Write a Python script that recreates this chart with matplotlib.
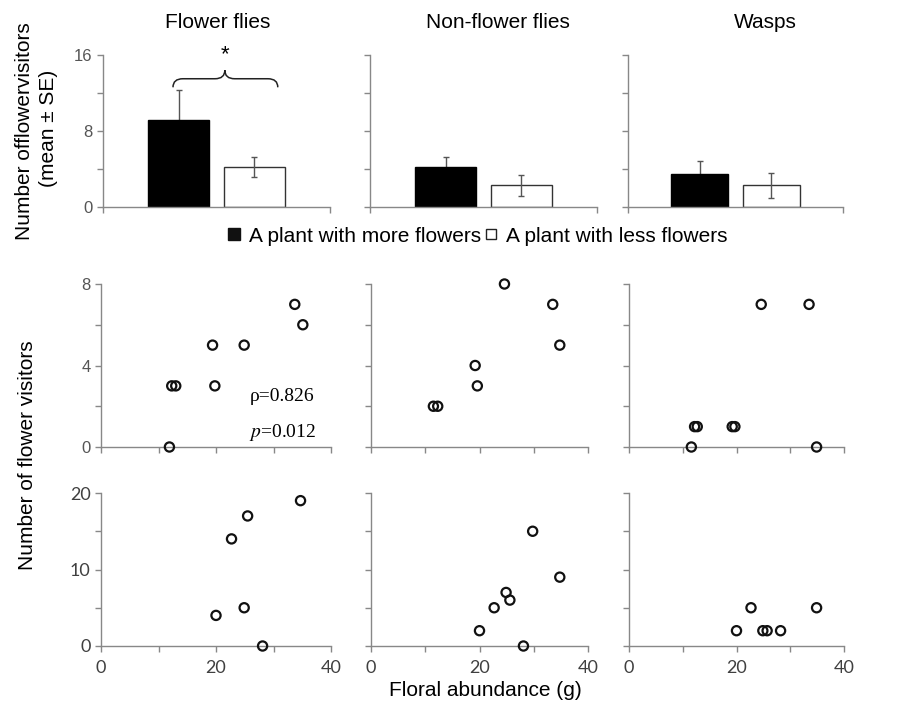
import matplotlib
matplotlib.use('Agg')
import matplotlib.pyplot as plt
from matplotlib.path import Path
from matplotlib.patches import PathPatch
from matplotlib.lines import Line2D

plt.rcParams['font.family'] = ['Liberation Sans', 'DejaVu Sans']
plt.rcParams['mathtext.fontset'] = 'stix'

# bar row: mean +- SE of visitors per plant
groups = ['Flower flies', 'Non-flower flies', 'Wasps']
more_mean = [9.2, 4.2, 3.5]
more_se = [3.1, 1.05, 1.35]
less_mean = [4.2, 2.3, 2.3]
less_se = [1.05, 1.1, 1.3]
legend_labels = ['A plant with more flowers', 'A plant with less flowers']

# middle row: floral abundance vs visitors
mid_x = [[11.9, 12.3, 13.0, 19.4, 19.8, 24.9, 33.7, 35.1],
         [11.5, 12.3, 19.2, 19.6, 24.6, 33.5, 34.8],
         [11.6, 12.2, 12.7, 19.2, 19.7, 24.6, 33.5, 34.9]]
mid_y = [[0, 3, 3, 5, 3, 5, 7, 6],
         [2, 2, 4, 3, 8, 7, 5],
         [0, 1, 1, 1, 1, 7, 7, 0]]

# bottom row
low_x = [[20.0, 22.7, 24.9, 25.5, 28.1, 34.7],
         [20.0, 22.7, 24.9, 25.6, 28.1, 29.8, 34.8],
         [20.0, 22.7, 24.9, 25.7, 28.2, 34.9]]
low_y = [[4, 14, 5, 17, 0, 19],
         [2, 5, 7, 6, 0, 15, 9],
         [2, 5, 2, 2, 2, 5]]

W, H = 915, 713
fig = plt.figure(figsize=(W / 100, H / 100), dpi=100)


def px_axes(left, top, right, bottom):
    return fig.add_axes([left / W, 1 - bottom / H, (right - left) / W, (bottom - top) / H])


spine_c = '#888888'
lab_c = '#555555'


def style(ax):
    for s in ['top', 'right']:
        ax.spines[s].set_visible(False)
    for s in ['left', 'bottom']:
        ax.spines[s].set_color(spine_c)
        ax.spines[s].set_linewidth(1)
    ax.tick_params(which='both', direction='out', length=4, width=1,
                   color=spine_c, labelcolor=lab_c, labelsize=12)


bar_cols = [(103, 330), (370, 597), (628, 843)]
sc_cols = [(101, 331), (371, 588), (629, 844)]
title_x = [218, 498, 765]

# top row: bars
for i, (l, r) in enumerate(bar_cols):
    ax = px_axes(l, 55, r, 207)
    style(ax)
    ax.bar(1, more_mean[i], width=0.8, color='black', edgecolor='black', lw=1, zorder=2)
    ax.bar(2, less_mean[i], width=0.8, color='white', edgecolor='#333333', lw=1, zorder=2)
    # black bar: the lower half of its error bar is hidden behind the bar
    ax.errorbar([1], [more_mean[i]], yerr=[[more_se[i]], [more_se[i]]],
                fmt='none', ecolor='#555555', elinewidth=1, capsize=2.5, capthick=1, zorder=1)
    ax.errorbar([2], [less_mean[i]], yerr=[less_se[i]],
                fmt='none', ecolor='#555555', elinewidth=1, capsize=2.5, capthick=1, zorder=3)
    ax.set_xlim(0, 3)
    ax.set_ylim(0, 16)
    ax.set_xticks([0, 3])
    ax.set_xticklabels([])
    ax.set_yticks([0, 8, 16])
    ax.set_yticks([4, 12], minor=True)
    if i == 0:
        ax.set_yticklabels(['0', '8', '16'])
        # significance brace
        x0, x1, xc = 0.925, 2.31, 1.61
        ye, yf, yt = 12.6, 13.5, 14.4
        rr = 0.13
        verts = [(x0, ye), (x0, yf), (x0 + rr, yf), (xc - rr, yf), (xc, yf), (xc, yt),
                 (xc, yf), (xc + rr, yf), (x1 - rr, yf), (x1, yf), (x1, ye)]
        codes = [Path.MOVETO, Path.CURVE3, Path.CURVE3, Path.LINETO, Path.CURVE3, Path.CURVE3,
                 Path.CURVE3, Path.CURVE3, Path.LINETO, Path.CURVE3, Path.CURVE3]
        ax.add_patch(PathPatch(Path(verts, codes), fc='none', ec='#222222', lw=1.1, clip_on=False))
        ax.text(xc, 16.0, '*', ha='center', va='center', fontsize=16, clip_on=False)
    else:
        ax.set_yticklabels([])
    fig.text(title_x[i] / W, 1 - 22 / H, groups[i], ha='center', va='center', fontsize=15)

fig.text(25 / W, 1 - 131 / H, 'Number offlowervisitors', rotation=90,
         ha='center', va='center', fontsize=15)
fig.text(48 / W, 1 - 128 / H, '(mean \u00b1 SE)', rotation=90,
         ha='center', va='center', fontsize=15)

handles = [Line2D([], [], ls='', marker='s', ms=9, mfc='#111111', mec='#111111'),
           Line2D([], [], ls='', marker='s', ms=7, mfc='white', mec='#222222', mew=1)]
fig.legend(handles, legend_labels, loc='center', bbox_to_anchor=(477 / W, 1 - 236 / H),
           ncol=2, frameon=False, fontsize=15, handlelength=0.7, handletextpad=0.4,
           columnspacing=0.1, borderpad=0)

# middle and bottom rows: scatter
for row, (xs, ys, top, bot, ymax, ymaj, ymin) in enumerate([
        (mid_x, mid_y, 284, 447, 8, [0, 4, 8], [2, 6]),
        (low_x, low_y, 493, 646, 20, [0, 10, 20], [5, 15])]):
    for i, (l, r) in enumerate(sc_cols):
        ax = px_axes(l, top, r, bot)
        style(ax)
        ax.scatter(xs[i], ys[i], s=44, facecolors='none', edgecolors='#111111',
                   linewidths=1.6, clip_on=False, zorder=3)
        ax.set_xlim(0, 40)
        ax.set_ylim(0, ymax)
        ax.set_xticks([0, 20, 40])
        ax.set_xticks([10, 30], minor=True)
        ax.set_yticks(ymaj)
        ax.set_yticks(ymin, minor=True)
        if i > 0:
            ax.set_yticklabels([])
        if row == 0:
            ax.set_xticklabels([])
        else:
            for lbl in ax.get_xticklabels() + ax.get_yticklabels():
                lbl.set_family(['Lato', 'DejaVu Sans'])
                lbl.set_fontsize(13)
                lbl.set_color('#404040')
            ax.tick_params(axis='x', pad=6)
        if row == 0 and i == 0:
            ax.text(25.8, 2.5, '\u03c1=0.826', fontsize=14, va='center',
                    family=['Liberation Serif', 'DejaVu Serif'])
            ax.text(25.8, 0.7, '$p$=0.012', fontsize=14, va='center',
                    family=['Liberation Serif', 'DejaVu Serif'])

fig.text(28 / W, 1 - 455 / H, 'Number of flower visitors', rotation=90,
         ha='center', va='center', fontsize=15)
fig.text(485 / W, 1 - 690 / H, 'Floral abundance (g)', ha='center', va='center', fontsize=15)

fig.savefig('out.png', dpi=100, facecolor='white')
